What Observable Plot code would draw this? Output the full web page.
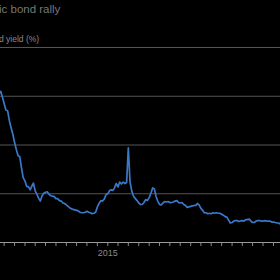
<!DOCTYPE html>
<html>
<head>
<meta charset="utf-8">
<script src="https://cdn.jsdelivr.net/npm/d3@7"></script>
<script src="https://cdn.jsdelivr.net/npm/@observablehq/plot@0.6"></script>
<style>
  html, body { margin: 0; padding: 0; background: #000; }
  #wrap { position: relative; width: 280px; height: 280px; overflow: hidden; background: #000; font-family: "Liberation Sans", Arial, sans-serif; }
  #title { position: absolute; left: -1px; top: 3px; font-size: 11.5px; color: #777; white-space: nowrap; }
  #subtitle { position: absolute; left: -1px; top: 34px; font-size: 8.5px; color: #8a8a8a; white-space: nowrap; }
  svg { position: absolute; left: 0; top: 0; }
</style>
</head>
<body>
<div id="wrap">
  <div id="title">ic bond rally</div>
  <div id="subtitle">d yield (%)</div>
</div>
<script>
const dates = [
  "2012-05-01","2012-05-16","2012-06-01","2012-06-16","2012-07-01","2012-07-16","2012-08-01","2012-08-16",
  "2012-09-01","2012-09-16","2012-10-01","2012-10-16","2012-11-01","2012-11-16","2012-12-01","2012-12-16",
  "2013-01-01","2013-01-16","2013-02-01","2013-02-16","2013-03-01","2013-03-16","2013-04-01","2013-04-16",
  "2013-05-01","2013-05-16","2013-06-01","2013-06-16","2013-07-01","2013-07-16","2013-08-01","2013-08-16",
  "2013-09-01","2013-09-16","2013-10-01","2013-10-16","2013-11-01","2013-11-16","2013-12-01","2013-12-16",
  "2014-01-01","2014-01-16","2014-02-01","2014-02-16","2014-03-01","2014-03-16","2014-04-01","2014-04-16",
  "2014-05-01","2014-05-16","2014-06-01","2014-06-16","2014-07-01","2014-07-16","2014-08-01","2014-08-16",
  "2014-09-01","2014-09-16","2014-10-01","2014-10-16","2014-11-01","2014-11-16","2014-12-01","2014-12-16",
  "2015-01-01","2015-01-16","2015-02-01","2015-02-16","2015-03-01","2015-03-16","2015-04-01","2015-04-16",
  "2015-05-01","2015-05-16","2015-06-01","2015-06-16","2015-07-01","2015-07-16","2015-08-01","2015-08-16",
  "2015-09-01","2015-09-16","2015-10-01","2015-10-16","2015-11-01","2015-11-16","2015-12-01","2015-12-16",
  "2016-01-01","2016-01-16","2016-02-01","2016-02-16","2016-03-01","2016-03-16","2016-04-01","2016-04-16",
  "2016-05-01","2016-05-16","2016-06-01","2016-06-16","2016-07-01","2016-07-16","2016-08-01","2016-08-16",
  "2016-09-01","2016-09-16","2016-10-01","2016-10-16","2016-11-01","2016-11-16","2016-12-01","2016-12-16",
  "2017-01-01","2017-01-16","2017-02-01","2017-02-16","2017-03-01","2017-03-16","2017-04-01","2017-04-16",
  "2017-05-01","2017-05-16","2017-06-01","2017-06-16","2017-07-01","2017-07-16","2017-08-01","2017-08-16",
  "2017-09-01","2017-09-16","2017-10-01","2017-10-16","2017-11-01","2017-11-16","2017-12-01","2017-12-16",
  "2018-01-01","2018-01-16","2018-02-01","2018-02-16","2018-03-01","2018-03-16","2018-04-01","2018-04-16",
  "2018-05-01","2018-05-16","2018-06-01","2018-06-16","2018-07-01","2018-07-16","2018-08-01","2018-08-16",
  "2018-09-01","2018-09-16","2018-10-01","2018-10-16","2018-11-01","2018-11-16","2018-12-01","2018-12-16",
  "2019-01-01","2019-01-16","2019-02-01","2019-02-16","2019-03-01","2019-03-16"
];
const yields = [
  29.8,30.6,31.0,29.8,28.5,27.2,27.0,25.0, 23.5,22.2,20.5,19.1,17.8,17.6,15.3,13.3,
  12.6,11.5,11.4,10.8,11.5,12.2,10.6,9.9, 9.1,8.5,9.6,10.1,10.3,10.4,9.9,9.6,
  9.5,9.4,9.0,9.0,8.6,8.5,8.1,8.0,
  7.7,7.4,7.1,6.9,6.8,6.7,6.6,6.5, 6.2,6.1,6.1,6.2,6.4,6.2,6.1,5.9,
  6.0,6.2,7.3,8.0,8.6,8.5,8.9,9.8,
  10.0,10.6,10.8,10.7,11.2,12.1,11.4,12.4, 12.0,12.4,12.1,12.3,19.4,12.5,10.5,9.5,
  9.0,8.6,8.1,7.8,7.8,8.2,8.8,8.6,
  9.2,10.1,11.2,11.0,9.5,8.5,7.8,7.7, 8.1,8.4,8.3,8.4,8.2,8.2,8.3,8.5,
  8.6,8.2,8.1,8.2,7.8,7.6,7.2,7.3,
  7.4,7.5,7.6,7.6,8.0,7.7,7.0,6.6, 6.1,6.1,5.9,6.0,5.9,6.1,6.0,6.1,
  6.0,6.0,5.8,5.6,5.3,5.2,4.6,4.0,
  4.1,4.4,4.5,4.5,4.3,4.4,4.5,4.4, 4.7,4.7,4.8,4.4,4.1,4.1,4.4,4.5,
  4.5,4.4,4.4,4.5,4.4,4.4,4.4,4.2,
  4.2,4.1,4.0,4.0,3.8,3.8
];
const gridValues = [10, 20, 30, 40];
const xDomain = ["2012-05-30", "2019-03-04"];
const yDomain = [0, 40];
const labeledYear = 2015;

const data = dates.map((d, i) => ({date: new Date(d + "T00:00:00Z"), value: yields[i]}));

const chart = Plot.plot({
  width: 280,
  height: 280,
  marginTop: 47,
  marginBottom: 38,
  marginLeft: 0,
  marginRight: 0,
  style: {background: "transparent", fontFamily: "Liberation Sans, Arial, sans-serif"},
  x: {type: "utc", domain: xDomain.map(d => new Date(d + "T00:00:00Z"))},
  y: {domain: yDomain, axis: null},
  marks: [
    Plot.ruleY(gridValues, {stroke: "#555", strokeWidth: 1.2}),
    Plot.axisX({
      ticks: d3.utcMonth.every(3),
      tickSize: 4,
      tickPadding: 3,
      stroke: "#888",
      fill: "#888",
      fontSize: 9,
      tickFormat: d => (d.getUTCFullYear() === labeledYear && d.getUTCMonth() === 0) ? String(labeledYear) : ""
    }),
    Plot.ruleY([0], {stroke: "#999", strokeWidth: 1.2}),
    Plot.lineY(data, {x: "date", y: "value", stroke: "#3a78c8", strokeWidth: 1.7, clip: true})
  ]
});
document.getElementById("wrap").prepend(chart);
</script>
</body>
</html>
